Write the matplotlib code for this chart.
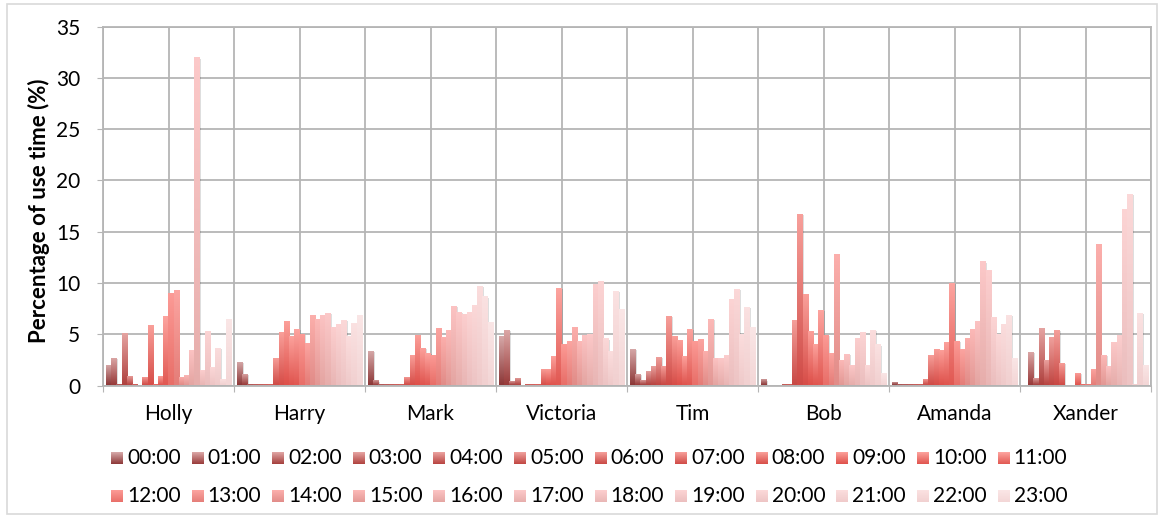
import numpy as np
import matplotlib.pyplot as plt
from matplotlib.patches import Rectangle

plt.rcParams['font.family'] = ['Lato', 'DejaVu Sans']

# share of use time (%) per hour of day, one list per user
people = ['Holly', 'Harry', 'Mark', 'Victoria', 'Tim', 'Bob', 'Amanda', 'Xander']
hours = ['%02d:00' % h for h in range(24)]

holly = [2.0, 2.7, 0.1, 5.1, 0.9, 0.15, 0, 0.8, 5.9, 0.1, 0.9, 6.8,
         9.0, 9.3, 0.8, 1.0, 3.5, 32.0, 1.5, 5.3, 1.8, 3.7, 0.6, 6.5]
harry = [2.3, 1.1, 0.1, 0.1, 0.1, 0.1, 0.1, 2.7, 5.2, 6.3, 4.8, 5.5,
         5.0, 4.15, 6.9, 6.5, 6.9, 7.1, 5.75, 6.0, 6.4, 4.8, 6.1, 6.9]
mark = [3.35, 0.5, 0.1, 0.1, 0.1, 0.1, 0.1, 0.8, 3.0, 4.9, 3.7, 3.2,
        3.0, 5.6, 4.7, 5.4, 7.8, 7.2, 7.0, 7.2, 7.9, 9.7, 8.7, 6.2]
victoria = [4.85, 5.4, 0.4, 0.7, 0, 0.1, 0.1, 0.1, 1.6, 1.6, 2.9, 9.5,
            4.05, 4.35, 5.7, 4.35, 4.9, 5.0, 9.9, 10.2, 4.6, 3.4, 9.25, 7.5]
tim = [3.55, 1.1, 0.5, 1.4, 1.9, 2.8, 1.9, 6.8, 4.85, 4.45, 2.9, 5.5,
       4.35, 4.55, 3.35, 6.5, 2.7, 2.7, 3.0, 8.45, 9.45, 5.0, 7.7, 5.7]
bob = [0.6, 0, 0, 0, 0.1, 0.1, 6.4, 16.75, 8.9, 5.3, 4.0, 7.35,
       4.9, 3.15, 12.8, 2.5, 3.05, 2.0, 4.6, 5.2, 2.0, 5.4, 4.0, 1.2]
amanda = [0.3, 0.1, 0.1, 0.1, 0.1, 0.1, 0.6, 3.0, 3.55, 3.5, 4.25, 10.0,
          4.35, 3.55, 4.65, 5.5, 6.3, 12.1, 11.3, 6.7, 5.0, 6.0, 6.9, 2.7]
xander = [0, 3.25, 0.7, 5.6, 2.5, 4.7, 5.4, 2.2, 0, 0, 1.2, 0.1,
          0.1, 1.6, 13.8, 3.0, 1.9, 4.2, 4.9, 17.2, 18.7, 0.1, 7.05, 2.0]

usage = np.array([holly, harry, mark, victoria, tim, bob, amanda, xander])

# gradient stops (bottom, top) at a few hours, blended for the rest
stop_hours = [0, 3, 6, 9, 11, 12, 14, 16, 19, 23]
stop_bottom = [(140, 55, 55), (175, 65, 62), (200, 72, 68), (222, 80, 74),
               (225, 88, 82), (232, 110, 104), (225, 140, 136),
               (228, 165, 162), (235, 190, 190), (243, 214, 214)]
stop_top = [(215, 170, 170), (230, 165, 163), (245, 160, 155), (252, 160, 154),
            (253, 165, 160), (252, 155, 150), (252, 175, 172),
            (252, 195, 195), (252, 212, 212), (250, 230, 230)]


def hour_colors(h):
    bot = [np.interp(h, stop_hours, [c[j] for c in stop_bottom]) / 255 for j in range(3)]
    top = [np.interp(h, stop_hours, [c[j] for c in stop_top]) / 255 for j in range(3)]
    return np.array(bot), np.array(top)


def gradient(h, n=64):
    bot, top = hour_colors(h)
    t = np.linspace(0, 1, n)[:, None, None]
    return bot * (1 - t) + top * t


W, H = 1161, 518
fig = plt.figure(figsize=(W / 100, H / 100), dpi=100)
fig.add_artist(Rectangle((7 / W, 4 / H), 1150 / W, 510 / H, transform=fig.transFigure,
                         facecolor='none', edgecolor='#d9d9d9', lw=1.2))
ax = fig.add_axes([103 / W, 1 - 385.5 / H, (1151 - 103) / W, (385.5 - 26.7) / H])

bar_w = 5.2 / 131
offset = 3.0 / 131
grid_c = '#b5b5b5'
fs = 15

for i in range(24):
    xs = np.arange(len(people)) + offset + (i + 0.5) * bar_w
    bars = ax.bar(xs, usage[:, i], width=bar_w, facecolor='none',
                  edgecolor='none', zorder=3)
    img = gradient(i)
    for p in bars:
        h = p.get_height()
        if h <= 0:
            continue
        x0 = p.get_x()
        # soft drop shadow to the right
        ax.add_patch(Rectangle((x0 + 1.4 / 131, 0), bar_w, h - 0.12,
                               facecolor=(0, 0, 0, 0.13), edgecolor='none', zorder=2))
        im = ax.imshow(img, extent=(x0, x0 + bar_w, 0, h), origin='lower',
                       aspect='auto', zorder=3, interpolation='bilinear')
        im.set_clip_path(p)

ax.set_xlim(0, 8)
ax.set_ylim(0, 35)
ax.set_yticks(range(0, 36, 5))
ax.set_xticks(range(9))
ax.set_xticklabels([])
ax.set_xticks(np.arange(8) + 0.5, minor=True)
ax.set_xticklabels(people, minor=True)
ax.grid(True, which='both', axis='x', color=grid_c, lw=1.3)
ax.grid(True, axis='y', color=grid_c, lw=1.3)
ax.set_axisbelow(True)
for s in ax.spines.values():
    s.set_color(grid_c)
    s.set_linewidth(1.3)
ax.tick_params(axis='y', length=4.3, color=grid_c, pad=12, labelsize=fs)
ax.tick_params(axis='x', which='major', length=4.3, color=grid_c)
ax.tick_params(axis='x', which='minor', length=0, pad=13, labelsize=fs)

fig.text(38.5 / W, 1 - 211 / H, 'Percentage of use time (%)', rotation=90,
         fontsize=16, fontweight='bold', ha='center', va='center')

# legend: two rows of twelve gradient swatches
sq = 12
for k, lab in enumerate(hours):
    r, c = divmod(k, 12)
    sx = 111 + c * 80.6
    cy = 458 + r * 38
    bot, top = hour_colors(k)
    for s in range(sq):
        t = (s + 0.5) / sq
        col = bot * (1 - t) + top * t
        fig.add_artist(Rectangle((sx / W, 1 - (cy + sq / 2 - s) / H), sq / W, 1.05 / H,
                                 transform=fig.transFigure, facecolor=col,
                                 edgecolor='none'))
    fig.text((sx + 16) / W, 1 - cy / H, lab, fontsize=fs, ha='left', va='center')

fig.savefig('out.png', dpi=100)
